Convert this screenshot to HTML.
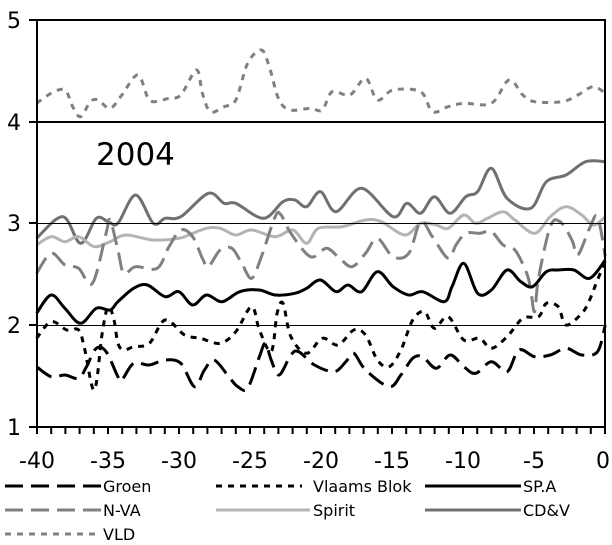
<!DOCTYPE html>
<html><head><meta charset="utf-8"><style>
html,body{margin:0;padding:0;background:#fff;width:612px;height:545px;overflow:hidden}
svg{display:block;font-family:"DejaVu Sans","Liberation Sans",sans-serif}
</style></head><body>
<svg id="s" width="612" height="545" viewBox="0 0 612 545" xmlns="http://www.w3.org/2000/svg">
<rect x="0" y="0" width="612" height="545" fill="#fff"/>
<g id="series" fill="none" stroke-linejoin="round"></g>
<g stroke="#000">
<line x1="37" y1="325.5" x2="605" y2="325.5" stroke-width="1"/>
<line x1="37" y1="223.5" x2="605" y2="223.5" stroke-width="1"/>
<line x1="37" y1="122" x2="605" y2="122" stroke-width="2"/>
<rect x="37" y="20" width="568" height="407" fill="none" stroke-width="2"/>
<line x1="29" y1="20" x2="37" y2="20" stroke-width="2"/>
<line x1="29" y1="122" x2="37" y2="122" stroke-width="2"/>
<line x1="29" y1="223" x2="37" y2="223" stroke-width="2"/>
<line x1="29" y1="325" x2="37" y2="325" stroke-width="2"/>
<line x1="29" y1="427" x2="37" y2="427" stroke-width="2"/>
<g id="ticks" stroke-width="2"></g>
</g>
<g font-size="22" fill="#000" text-anchor="middle">
<text x="14" y="28">5</text><text x="14" y="130">4</text><text x="14" y="231">3</text><text x="14" y="333">2</text><text x="14" y="435">1</text>
<text x="37" y="468">-40</text><text x="108" y="468">-35</text><text x="179" y="468">-30</text><text x="250" y="468">-25</text><text x="321" y="468">-20</text><text x="392" y="468">-15</text><text x="463" y="468">-10</text><text x="534" y="468">-5</text><text x="603" y="468">0</text>
</g>
<text x="96" y="165" font-size="31" fill="#000">2004</text>
<g font-size="16" fill="#000">
<line x1="5" y1="486" x2="101" y2="486" stroke="#000" stroke-width="3" stroke-dasharray="18,8"/>
<text x="103" y="492">Groen</text>
<line x1="216" y1="486" x2="302" y2="486" stroke="#000" stroke-width="3" stroke-dasharray="6,6"/>
<text x="313" y="492">Vlaams Blok</text>
<line x1="425" y1="486" x2="521" y2="486" stroke="#000" stroke-width="3"/>
<text x="523" y="492">SP.A</text>
<line x1="5" y1="510" x2="101" y2="510" stroke="#808080" stroke-width="3" stroke-dasharray="18,8"/>
<text x="103" y="516">N-VA</text>
<line x1="216" y1="510" x2="310" y2="510" stroke="#b4b4b4" stroke-width="3"/>
<text x="313" y="516">Spirit</text>
<line x1="425" y1="510" x2="521" y2="510" stroke="#707070" stroke-width="3"/>
<text x="523" y="516">CD&amp;V</text>
<line x1="5" y1="534" x2="95" y2="534" stroke="#808080" stroke-width="3" stroke-dasharray="6,6"/>
<text x="103" y="540">VLD</text>
</g>
</svg>
<script>
(function(){
var NS="http://www.w3.org/2000/svg";
var t=document.getElementById("ticks");
for(var i=0;i<=40;i++){var x=37+i*14.2;var l=document.createElementNS(NS,"line");l.setAttribute("x1",x);l.setAttribute("x2",x);l.setAttribute("y1",427);l.setAttribute("y2",434);t.appendChild(l);}
function P(a,off){var r=[];for(var i=0;i<a.length;i+=2)r.push([a[i]/2.544,(a[i+1]+(off||0))/3]);return r;}
function path(p){var d="M"+p[0][0].toFixed(1)+","+p[0][1].toFixed(1);
for(var i=0;i<p.length-1;i++){var p0=p[i-1]||p[i],p1=p[i],p2=p[i+1],p3=p[i+2]||p2;
var c1=[p1[0]+(p2[0]-p0[0])/6,p1[1]+(p2[1]-p0[1])/6],c2=[p2[0]-(p3[0]-p1[0])/6,p2[1]-(p3[1]-p1[1])/6];
d+="C"+c1[0].toFixed(1)+","+c1[1].toFixed(1)+" "+c2[0].toFixed(1)+","+c2[1].toFixed(1)+" "+p2[0].toFixed(1)+","+p2[1].toFixed(1);}
return d;}
var g=document.getElementById("series");
function add(pts,col,dash){var e=document.createElementNS(NS,"path");e.setAttribute("d",path(pts));e.setAttribute("stroke",col);e.setAttribute("stroke-width","3");if(dash)e.setAttribute("stroke-dasharray",dash);g.appendChild(e);}
var cdv=P([93,715,160,650,205,730,245,655,275,665,300,670,345,585,390,670,420,655,460,650,530,580,570,610,600,610,670,655,720,605,750,600,780,620,815,575,855,635,920,565,1000,650,1035,610,1070,640,1105,590,1145,640,1185,590,1215,575,1250,505,1290,595,1350,625,1390,545,1440,525,1490,485,1540,485]);
var vld=P([93,310,130,280,165,270,185,320,205,350,230,305,250,300,280,325,310,285,350,225,375,290,390,305,430,295,460,285,500,210,515,280,535,335,570,320,600,300,630,190,665,150,685,200,710,300,740,330,790,325,820,330,845,275,890,285,930,235,960,300,1000,270,1070,275,1100,335,1140,320,1180,310,1250,310,1295,240,1330,285,1360,305,1430,305,1470,285,1510,260,1545,285]);
var spi=P([93,735,130,710,165,725,200,710,240,740,280,725,320,705,390,720,455,715,480,705,525,685,560,685,600,705,640,690,700,710,745,690,780,730,810,685,870,680,930,660,970,665,1030,705,1070,670,1110,675,1140,685,1180,645,1210,670,1240,655,1280,635,1310,660,1360,700,1400,650,1440,620,1480,645,1510,675,1540,650]);
var nva=P([93,820,130,760,165,795,200,805,235,850,270,700,280,660,300,750,315,820,345,800,400,805,430,740,460,690,490,710,515,775,530,800,560,750,590,745,615,790,640,835,665,770,700,650,715,645,740,700,790,770,830,745,860,770,895,800,930,760,960,715,1000,770,1040,760,1070,665,1100,710,1140,775,1160,735,1185,700,1220,700,1250,695,1280,735,1310,750,1340,820,1350,870,1360,935,1370,835,1400,680,1425,665,1455,720,1470,765,1500,685,1520,650,1540,770]);
var spa=P([93,130,130,75,165,115,205,160,245,115,280,120,300,95,340,55,375,45,420,80,455,65,490,105,525,75,565,95,610,65,660,60,700,75,750,70,780,55,815,30,855,65,885,45,920,65,960,5,1000,50,1040,75,1075,65,1130,95,1150,50,1180,-20,1215,70,1250,60,1290,0,1325,35,1355,50,1390,5,1420,0,1460,0,1500,25,1540,-30],810);
var vb=P([93,205,130,155,170,180,200,180,215,235,240,360,260,190,275,110,290,150,300,220,315,240,340,230,380,220,420,150,470,195,510,205,560,220,600,185,640,110,660,180,690,245,705,130,720,100,740,200,780,250,820,205,860,225,900,180,930,195,960,270,990,290,1020,240,1050,150,1080,125,1105,175,1140,140,1180,210,1220,205,1250,235,1290,200,1330,145,1370,140,1390,100,1420,110,1440,165,1480,130,1500,90,1520,30,1545,-40],810);
var gr=P([93,290,130,320,165,315,200,325,220,290,245,235,270,245,300,320,310,330,340,280,380,285,420,270,460,280,495,350,520,300,545,270,585,325,605,350,630,355,660,260,675,220,690,270,710,315,740,255,760,245,800,285,850,305,880,275,900,250,930,300,990,350,1020,315,1050,265,1075,260,1110,295,1145,255,1180,290,1210,310,1250,275,1290,305,1320,240,1360,260,1400,255,1440,235,1480,255,1520,245,1540,165],810);
add(vld,"#808080","6,6");
add(cdv,"#707070");
add(spi,"#b4b4b4");
add(nva,"#808080","18,8");
add(spa,"#000");
add(vb,"#000","6,6");
add(gr,"#000","18,8");
})();
</script>
</body></html>
